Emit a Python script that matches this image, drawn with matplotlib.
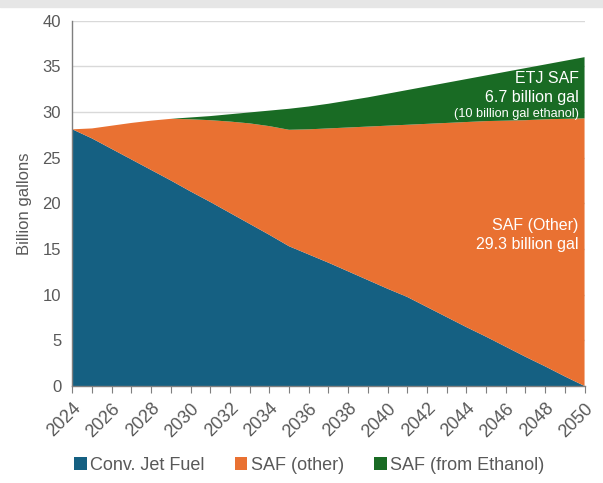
import matplotlib
matplotlib.use("Agg")
import matplotlib.pyplot as plt
from matplotlib.patches import Rectangle

years = list(range(2024, 2051))

# Billion gallons per year
conv_jet_fuel = [28.1, 27.1, 25.95, 24.8, 23.65, 22.5, 21.3, 20.15, 18.95, 17.75,
                 16.55, 15.3, 14.4, 13.5, 12.55, 11.6, 10.65, 9.75, 8.65, 7.55,
                 6.45, 5.4, 4.3, 3.2, 2.15, 1.05, 0.0]
saf_other = [0.0, 1.1, 2.55, 4.0, 5.4, 6.75, 7.9, 8.95, 10.0, 11.0,
             11.9, 12.75, 13.7, 14.7, 15.75, 16.8, 17.85, 18.85, 20.05, 21.25,
             22.45, 23.6, 24.75, 25.9, 27.05, 28.2, 29.3]
saf_ethanol = [0.0, 0.0, 0.0, 0.0, 0.0, 0.0, 0.2, 0.45, 0.8, 1.2,
               1.7, 2.3, 2.5, 2.7, 2.95, 3.2, 3.5, 3.8, 4.1, 4.4,
               4.7, 5.0, 5.35, 5.7, 6.0, 6.35, 6.7]

series_names = ["Conv. Jet Fuel", "SAF (other)", "SAF (from Ethanol)"]
colors = ["#156082", "#E97132", "#196B24"]
y_ticks = [0, 5, 10, 15, 20, 25, 30, 35, 40]

plt.rcParams["font.family"] = ["Liberation Sans", "DejaVu Sans"]
text_color = "#595959"

fig = plt.figure(figsize=(6.03, 4.83), dpi=100)
fig.patches.append(Rectangle((0, 0.986), 1, 0.014, transform=fig.transFigure,
                             color="#e6e6e6", zorder=0))

ax = fig.add_axes([0.12, 0.2008, 0.8494, 0.7565])
ax.stackplot(years, conv_jet_fuel, saf_other, saf_ethanol,
             colors=colors, labels=series_names, linewidth=0, zorder=2)

ax.set_xlim(2024, 2050)
ax.set_ylim(0, 40)
ax.set_yticks(y_ticks)
ax.set_xticks(years)
ax.set_xticklabels([str(y) if (y - 2024) % 2 == 0 else "" for y in years],
                   rotation=45, ha="right", rotation_mode="anchor")
ax.grid(axis="y", color="#d9d9d9", linewidth=1, zorder=0)
ax.set_axisbelow(True)

for side in ["top", "right"]:
    ax.spines[side].set_visible(False)
for side in ["left", "bottom"]:
    ax.spines[side].set_color("#7f7f7f")
    ax.spines[side].set_linewidth(1)
    ax.spines[side].set_zorder(3)

ax.tick_params(axis="y", length=0, labelsize=12, labelcolor=text_color, pad=8)
ax.tick_params(axis="x", length=5, color="#7f7f7f", labelsize=13,
               labelcolor=text_color, pad=5)
ax.set_ylabel("Billion gallons", fontsize=12, color=text_color, labelpad=8)

# Inline labels for the SAF layers
ax.text(2049.7, 33.7, "ETJ SAF", color="white", fontsize=11.5, ha="right", va="center")
ax.text(2049.7, 31.6, "6.7 billion gal", color="white", fontsize=11.5, ha="right", va="center")
ax.text(2049.7, 29.8, "(10 billion gal ethanol)", color="white", fontsize=9.2,
        ha="right", va="center")
ax.text(2049.7, 17.6, "SAF (Other)", color="white", fontsize=11.5, ha="right", va="center")
ax.text(2049.7, 15.5, "29.3 billion gal", color="white", fontsize=11.5, ha="right", va="center")

handles, labels = ax.get_legend_handles_labels()
fig.legend(handles, labels, loc="center", bbox_to_anchor=(0.513, 0.037), ncol=3,
           frameon=False, fontsize=13, labelcolor=text_color,
           handlelength=0.7, handleheight=0.7, handletextpad=0.2,
           columnspacing=1.65)

fig.savefig("out.png", dpi=100)
